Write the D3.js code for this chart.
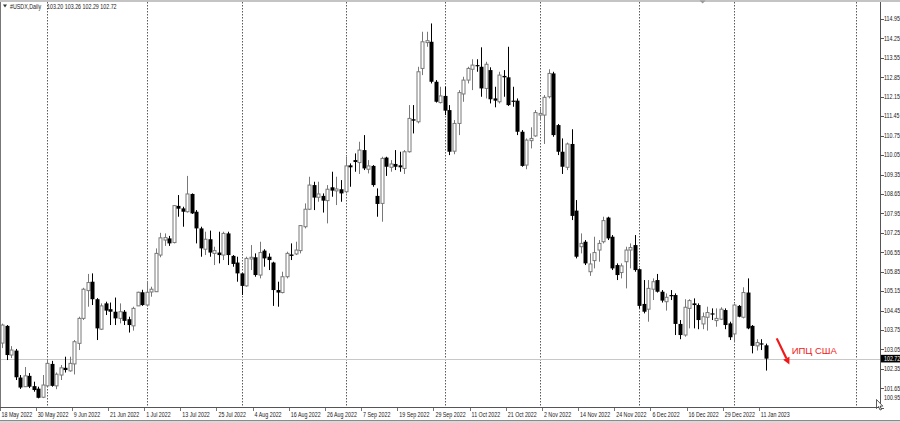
<!DOCTYPE html>
<html><head><meta charset="utf-8">
<script src="https://cdn.jsdelivr.net/npm/d3@7"></script>
<style>html,body{margin:0;padding:0;background:#fff;overflow:hidden}</style>
</head><body><svg id="c" width="900" height="423"></svg>
<script>
const symbolName = "#USDX,Daily";
const opens = [103.28,103.90,102.85,103.01,102.04,101.71,102.10,101.73,101.64,101.33,
101.74,102.53,101.74,102.13,102.39,102.28,102.53,103.27,104.17,105.17,
105.49,104.86,103.78,104.71,104.50,104.41,104.17,104.41,104.14,103.90,
104.62,105.11,104.65,105.12,105.13,106.45,106.99,107.05,106.90,108.22,
108.13,108.01,108.65,108.01,107.41,106.66,107.02,106.51,106.54,106.45,
107.23,106.42,106.18,105.79,105.34,106.31,106.37,105.73,106.61,106.39,
106.18,105.19,105.10,105.67,106.47,106.49,106.61,107.47,108.10,108.97,
108.53,108.58,108.41,108.89,108.76,108.82,108.73,109.68,109.87,109.78,
110.23,109.54,109.66,108.58,108.31,109.96,109.61,109.73,109.68,109.57,
110.17,111.34,111.25,113.17,114.10,114.13,112.69,111.94,112.18,111.67,
110.19,111.19,112.25,112.75,113.14,113.29,113.23,112.45,113.11,112.09,
111.97,112.90,112.85,112.01,112.01,110.89,109.69,110.57,110.74,111.49,
111.49,112.15,112.99,111.13,110.17,109.61,110.45,108.05,106.75,106.93,
105.85,106.25,106.63,106.93,107.80,107.11,106.09,105.82,106.21,106.63,
106.81,105.94,104.69,104.50,105.22,105.55,105.13,104.77,105.01,105.01,
103.97,103.57,104.53,104.71,104.65,103.97,104.21,104.35,104.09,104.14,
104.47,103.99,103.61,104.62,104.21,105.10,103.90,103.18,103.27,103.20];
const highs = [103.98,103.93,103.17,103.07,102.13,102.42,102.20,101.89,101.71,102.13,
102.71,102.64,102.22,102.49,102.79,102.79,103.39,104.23,105.27,105.77,
105.79,104.90,104.71,104.77,104.74,104.92,104.71,104.47,104.23,104.59,
105.13,105.20,105.52,105.31,106.69,107.25,107.23,107.14,108.25,108.61,
108.19,109.30,108.67,108.07,107.47,107.29,107.33,106.75,107.29,107.29,
107.29,106.45,106.39,105.79,106.39,106.81,106.51,106.93,106.66,106.51,
106.21,105.49,105.85,106.57,106.87,106.93,107.53,108.31,109.27,109.09,
109.09,108.67,108.97,109.45,109.27,109.15,109.99,109.75,110.11,110.53,
110.77,109.87,109.69,108.85,109.99,109.99,109.87,110.23,110.17,110.23,
111.85,111.85,113.23,114.49,114.49,114.79,112.75,112.51,112.51,111.85,
111.31,112.39,112.87,113.23,113.50,113.50,113.93,113.41,113.21,112.51,
113.05,113.11,113.95,112.51,112.09,110.95,110.65,111.05,111.67,111.73,
112.21,113.14,113.05,111.17,110.65,110.50,110.98,108.43,107.23,106.99,
106.51,107.11,106.99,107.83,107.83,107.17,106.15,106.15,106.75,106.87,
107.17,105.97,105.55,105.55,105.61,105.77,105.19,105.07,105.19,105.07,
104.11,104.86,104.86,104.89,104.71,104.38,104.59,104.53,104.53,104.57,
104.53,104.05,104.69,104.65,105.29,105.61,103.93,103.42,103.42,103.26];
const lows = [103.10,102.67,102.74,101.95,101.63,101.70,101.66,101.53,101.29,101.30,
101.72,101.71,101.62,101.95,102.22,102.25,102.15,103.03,104.11,104.59,
104.65,103.39,103.75,104.29,103.93,103.93,103.99,103.93,103.66,103.73,
104.62,104.62,104.62,104.95,105.12,106.37,106.78,106.78,106.87,107.83,
107.47,107.98,107.93,106.87,106.39,106.45,106.39,106.09,106.15,106.27,
106.09,106.03,105.49,105.01,105.31,105.91,105.67,105.61,106.03,105.91,
104.62,104.59,105.07,105.61,106.27,106.45,106.51,107.41,108.07,108.07,
108.37,107.98,107.59,108.55,108.25,108.37,108.67,108.91,109.45,109.37,
109.51,109.39,108.91,107.83,107.65,109.30,109.45,109.51,109.45,109.37,
110.14,110.83,111.19,112.93,113.95,112.63,111.94,111.91,111.49,110.05,
110.08,110.77,111.97,112.63,112.39,113.05,112.15,112.09,111.91,111.77,
111.91,112.15,111.82,111.79,110.77,109.63,109.54,110.29,110.71,111.31,
110.45,112.09,110.71,110.05,109.37,109.51,107.71,106.33,106.51,106.09,
105.70,105.97,106.21,106.87,106.99,105.91,105.55,105.61,105.25,105.97,
105.85,104.53,104.35,104.05,104.83,105.10,104.74,104.45,104.83,103.57,
103.42,103.51,103.81,103.81,103.78,103.78,103.73,104.11,103.87,104.11,
103.78,103.39,103.33,104.21,104.17,103.78,102.91,103.01,103.03,102.29];
const closes = [103.93,102.85,103.03,102.05,101.68,102.10,101.71,101.59,101.31,101.77,
102.55,101.74,102.16,102.39,102.31,102.55,103.33,104.17,105.22,105.46,
104.86,103.81,104.62,104.45,104.41,104.17,104.41,104.08,103.93,104.53,
105.11,104.65,105.11,105.22,106.51,107.07,107.08,106.87,108.23,108.12,
108.01,108.65,107.95,107.41,106.69,107.02,106.54,106.61,106.45,107.23,
106.45,106.13,105.79,105.34,106.33,106.37,105.73,106.54,106.33,106.27,
105.19,105.10,105.67,106.51,106.42,106.63,107.51,108.10,108.97,108.52,
108.65,108.41,108.82,108.77,108.83,108.67,109.66,109.61,109.80,110.23,
109.57,109.66,108.97,108.29,109.93,109.63,109.73,109.63,109.61,110.17,
111.37,111.29,113.05,114.13,114.17,112.69,111.97,112.18,111.65,110.17,
111.19,112.30,112.75,113.17,113.29,113.26,112.45,113.32,112.06,112.01,
112.93,112.85,111.85,111.97,110.89,109.66,110.59,110.65,111.58,111.55,
112.13,112.99,110.77,110.17,109.63,110.45,107.86,106.39,106.87,106.15,
106.13,106.54,106.87,107.69,107.05,105.97,105.73,106.06,106.63,106.72,
105.91,104.62,104.41,105.25,105.49,105.13,104.81,104.93,104.98,103.97,
103.57,104.57,104.81,104.65,104.11,104.23,104.38,104.33,104.17,104.50,
103.93,103.49,104.65,104.23,105.10,103.81,103.18,103.30,103.24,102.72];
const xTickLabels = ["18 May 2022","30 May 2022","9 Jun 2022","21 Jun 2022","1 Jul 2022","13 Jul 2022",
"25 Jul 2022","4 Aug 2022","16 Aug 2022","26 Aug 2022","7 Sep 2022","19 Sep 2022","29 Sep 2022",
"11 Oct 2022","21 Oct 2022","2 Nov 2022","14 Nov 2022","24 Nov 2022","6 Dec 2022","16 Dec 2022",
"29 Dec 2022","11 Jan 2023"];
const barsPerXTick = 8;
const separatorBars = [10,32,53,76,98,119,141,162,189];
const yTickValues = [114.95,114.25,113.55,112.85,112.15,111.45,110.75,110.05,109.35,108.65,
107.95,107.25,106.55,105.85,105.15,104.45,103.75,103.05,102.35,101.65,100.95];
const noteText = "ИПЦ США";
const noteArrowBars = [171.4, 174.2];
const noteArrowPrices = [103.45, 102.51];
const noteTextBar = 174.7;
const noteTextPrice = 102.99;
const shiftMarkerBar = 155;

const svg = d3.select("#c");
const W = 900, H = 423;
const plotRight = 880, plotTop = 2, plotBottom = 407;
const x = d3.scaleLinear().domain([0, 1]).range([2, 6.52]);
const y = d3.scaleLinear().domain([100.95, 114.95]).range([407.8, 19]);
const squish = 0.82;
const fontF = "'Liberation Sans', Arial, sans-serif";

svg.append("rect").attr("width", W).attr("height", H).attr("fill", "#fff");
// top window band
svg.append("rect").attr("x",0).attr("y",0).attr("width",W).attr("height",2).attr("fill","#c4c4c4");
// bottom band
svg.append("rect").attr("x",0).attr("y",420).attr("width",W).attr("height",3).attr("fill","#d8d8d8");
svg.append("line").attr("x1",0).attr("x2",W).attr("y1",420.5).attr("y2",420.5).attr("stroke","#8a8a8a");

const defs = svg.append("defs");
defs.append("clipPath").attr("id","plot").append("rect")
  .attr("x",0.5).attr("y",plotTop).attr("width",plotRight-0.5).attr("height",plotBottom-plotTop);

// separators
svg.append("g").selectAll("line").data(separatorBars).join("line")
  .attr("x1", d => Math.round(x(d))+0.5).attr("x2", d => Math.round(x(d))+0.5)
  .attr("y1", plotTop).attr("y2", plotBottom)
  .attr("stroke","#5a5a5a").attr("stroke-width",1).attr("stroke-dasharray","1.5,1.5");

// last price line
svg.append("line").attr("x1",0).attr("x2",plotRight)
  .attr("y1", Math.round(y(closes[closes.length-1]))+0.5).attr("y2", Math.round(y(closes[closes.length-1]))+0.5)
  .attr("stroke","#c8c8c8");

// candles
const bars = d3.range(opens.length).map(i => ({i, o:opens[i], h:highs[i], l:lows[i], c:closes[i]}));
const cg = svg.append("g").attr("clip-path","url(#plot)");
bars.forEach(b => {
  const cx = Math.round(x(b.i)) + 0.5;
  const bull = b.c >= b.o;
  const col = bull ? "#787878" : "#000";
  cg.append("line").attr("x1",cx).attr("x2",cx).attr("y1",y(b.h)).attr("y2",y(b.l))
    .attr("stroke",col).attr("stroke-width",1);
  const top = y(Math.max(b.o,b.c)), bot = y(Math.min(b.o,b.c));
  if (bull) {
    cg.append("rect").attr("x",cx-1.5).attr("y",top).attr("width",3).attr("height",Math.max(bot-top,1))
      .attr("fill","#fff").attr("stroke",col).attr("stroke-width",1);
  } else {
    cg.append("rect").attr("x",cx-2).attr("y",top).attr("width",4).attr("height",Math.max(bot-top,1.2))
      .attr("fill","#000");
  }
});

// frame lines
svg.append("line").attr("x1",0.5).attr("x2",0.5).attr("y1",plotTop).attr("y2",plotBottom).attr("stroke","#777");
svg.append("line").attr("x1",plotRight+0.5).attr("x2",plotRight+0.5).attr("y1",plotTop).attr("y2",plotBottom+1).attr("stroke","#555");
svg.append("line").attr("x1",0).attr("x2",plotRight+1).attr("y1",plotBottom+0.5).attr("y2",plotBottom+0.5).attr("stroke","#555");

// y axis ticks/labels
const ya = svg.append("g");
yTickValues.forEach(v => {
  const yy = Math.min(y(v), 398);
  ya.append("line").attr("x1",plotRight+1).attr("x2",plotRight+4).attr("y1",Math.round(y(v))+0.5).attr("y2",Math.round(y(v))+0.5)
    .attr("stroke","#555");
  ya.append("text").attr("transform",`translate(884,${yy}) scale(${squish},1)`)
    .attr("dy","0.35em").attr("font-family",fontF).attr("font-size",6.5).attr("fill","#222").text(v.toFixed(2));
});
// last price box
const lp = closes[closes.length-1];
ya.append("rect").attr("x",plotRight+1).attr("y",y(lp)-3.8).attr("width",W-plotRight-1).attr("height",7.6).attr("fill","#000");
ya.append("text").attr("transform",`translate(884,${y(lp)}) scale(${squish},1)`)
  .attr("dy","0.35em").attr("font-family",fontF).attr("font-size",6.5).attr("fill","#fff").text(lp.toFixed(2));

// x axis labels
const xa = svg.append("g");
xTickLabels.forEach((t, k) => {
  const xi = x(k*barsPerXTick);
  xa.append("line").attr("x1",Math.round(xi-2.5)+0.5).attr("x2",Math.round(xi-2.5)+0.5)
    .attr("y1",plotBottom+1).attr("y2",plotBottom+4).attr("stroke","#777");
  xa.append("text").attr("transform",`translate(${xi-0.5},417) scale(${squish},1)`)
    .attr("font-family",fontF).attr("font-size",6.5).attr("fill","#222").text(t);
});

// header
const last = bars[bars.length-1];
svg.append("path").attr("d","M3,4.5 L7,4.5 L5,7.5 Z").attr("fill","#333");
svg.append("text").attr("transform",`translate(10,8.5) scale(${squish},1)`)
  .attr("font-family",fontF).attr("font-size",6.5).attr("fill","#222").text(symbolName);
svg.append("text").attr("transform",`translate(47,8.5) scale(${squish},1)`)
  .attr("font-family",fontF).attr("font-size",6.5).attr("fill","#222")
  .text([last.o,last.h,last.l,last.c].map(v=>v.toFixed(2)).join(" "));

// shift marker
const sx = x(shiftMarkerBar);
svg.append("path").attr("d",`M${sx-3},0.5 L${sx+3},0.5 L${sx},3.5 Z`).attr("fill","#999");

// annotation
const ax1 = x(noteArrowBars[0]), ay1 = y(noteArrowPrices[0]);
const ax2 = x(noteArrowBars[1]), ay2 = y(noteArrowPrices[1]);
const ang = Math.atan2(ay2-ay1, ax2-ax1);
const hl = 7, hw = 3.5;
const bx = ax2 - hl*Math.cos(ang), by = ay2 - hl*Math.sin(ang);
svg.append("line").attr("x1",ax1).attr("y1",ay1).attr("x2",bx).attr("y2",by)
  .attr("stroke","#f01818").attr("stroke-width",2.2);
svg.append("path").attr("d",`M${ax2},${ay2} L${bx + hw*Math.sin(ang)},${by - hw*Math.cos(ang)} L${bx - hw*Math.sin(ang)},${by + hw*Math.cos(ang)} Z`)
  .attr("fill","#f01818");
svg.append("text").attr("x",x(noteTextBar)).attr("y",y(noteTextPrice)).attr("dy","0.35em")
  .attr("font-family",fontF).attr("font-size",9.5).attr("fill","#f01818").text(noteText);

// cursor
svg.append("path").attr("transform","translate(876.5,399.5)")
  .attr("d","M0,0 L0,9 L2,7 L3.5,10.5 L5,10 L3.6,6.6 L6.3,6.6 Z")
  .attr("fill","#fff").attr("stroke","#333").attr("stroke-width",0.8);
</script>
</body></html>
